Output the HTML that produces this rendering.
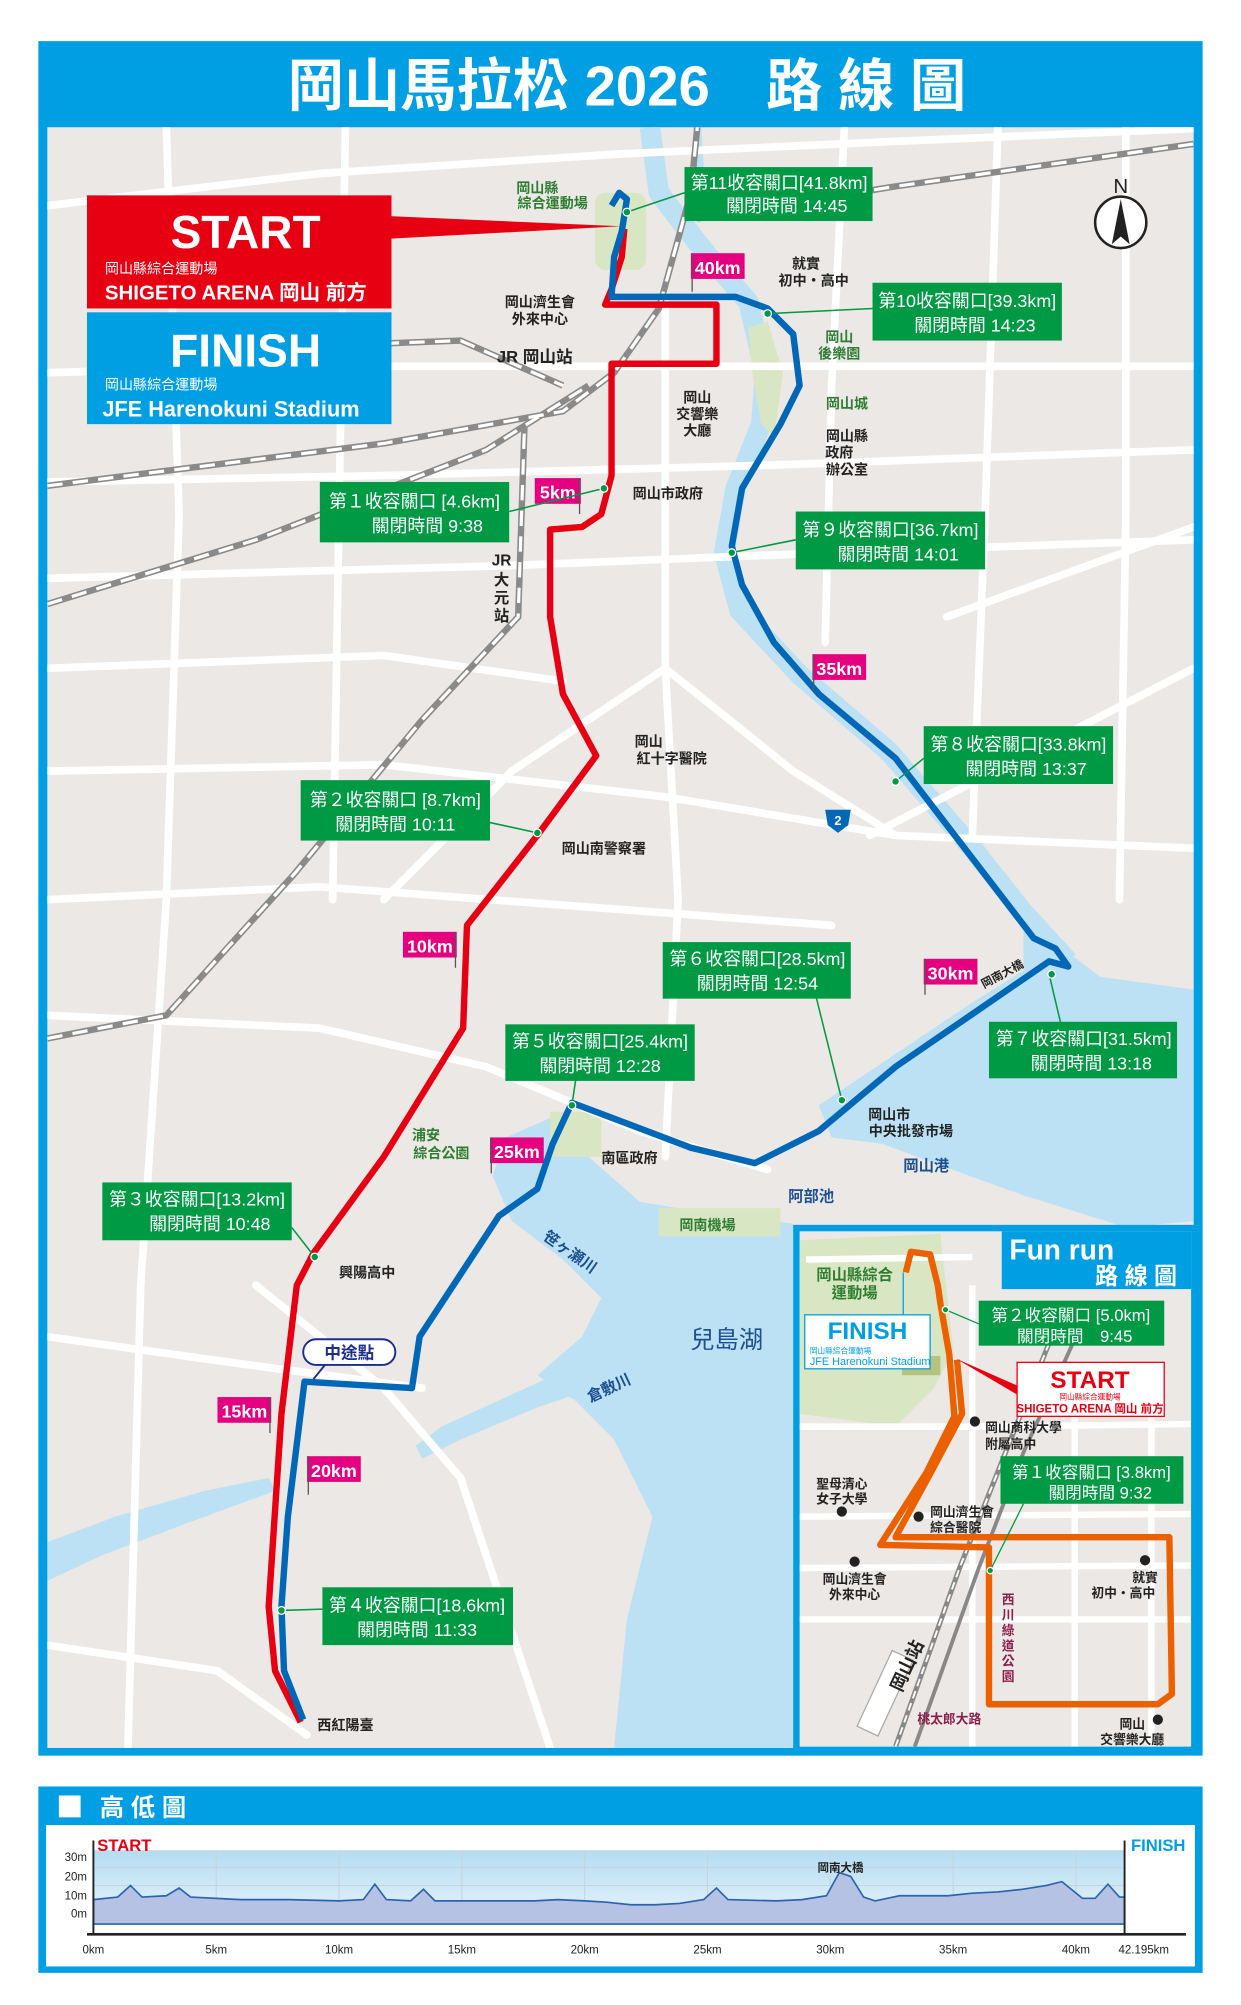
<!DOCTYPE html>
<html><head><meta charset="utf-8"><style>
html,body{margin:0;padding:0;background:#fff;width:1241px;height:2005px;overflow:hidden}
svg{display:block}
text{font-family:"Liberation Sans","Noto Sans CJK TC",sans-serif}
</style></head><body>
<svg width="1241" height="2005" viewBox="0 0 970 1560" preserveAspectRatio="none" xmlns="http://www.w3.org/2000/svg">
<rect width="970" height="1560" fill="#fff"/>
<rect x="30" y="32" width="910" height="1334" fill="#009fe3"/>
<text x="490" y="82" font-size="44" font-weight="bold" fill="#fff" text-anchor="middle">岡山馬拉松 2026　路 線 圖</text>
<rect x="37" y="99" width="896" height="1261" fill="#ebe8e5"/>
<clipPath id="mc"><rect x="37" y="99" width="896" height="1261"/></clipPath>
<g clip-path="url(#mc)">
<!-- water -->
<path d="M508,99 L515,150 L550,195 L585,235 L598,290 L595,330 L575,380 L566,430 L578,475 L625,525 L695,585 L760,660 L800,710 L835,748" fill="none" stroke="#bde1f4" stroke-width="16" stroke-linejoin="round"/>
<path d="M545,99 L548,140" fill="none" stroke="#bde1f4" stroke-width="6"/>
<g fill="#bde1f4">
<path d="M800,715 L860,760 L933,770 L933,950 L880,955 L800,930 L730,905 L690,890 L650,885 L640,860 L700,820 L760,780 L800,755 Z"/>
<path d="M395,885 L430,870 L460,900 L500,935 L560,945 L620,952 L622,1360 L480,1360 L490,1260 L510,1180 L480,1120 L450,1090 L420,1070 L455,1040 L470,1010 L440,980 L400,950 L385,915 Z"/>
<path d="M455,1060 L400,1085 L345,1110 L325,1125 L330,1135 L360,1120 L420,1095 L465,1080 Z"/>
<path d="M37,1200 L90,1180 L160,1160 L210,1150 L215,1160 L160,1180 L80,1210 L37,1230 Z"/>
</g>
<!-- parks -->
<g fill="#d9e6c3">
<rect x="465" y="150" width="40" height="60" rx="8"/>
<path d="M585,255 L600,250 L612,290 L605,340 L595,330 L588,290 Z"/>
<rect x="430" y="865" width="40" height="35"/>
<rect x="515" y="940" width="95" height="22"/>
</g>
<!-- roads -->
<g stroke="#fff" stroke-width="6" fill="none" stroke-linecap="round">
<path d="M37,160 L250,135 L480,120 L700,110 L933,100"/>
<path d="M37,290 L200,285 L480,285 L933,285"/>
<path d="M37,375 L300,370 L600,362 L933,350"/>
<path d="M37,450 L400,440 L650,430 L933,420"/>
<path d="M37,600 L300,595 L520,620 L700,650 L933,660"/>
<path d="M37,700 L250,690 L450,705 L650,720"/>
<path d="M37,790 L250,800 L380,830 L500,880 L600,910"/>
<path d="M37,1040 L180,1060 L330,1080"/>
<path d="M130,99 L140,400 L130,700 L110,1000 L100,1360"/>
<path d="M270,99 L265,400 L260,700"/>
<path d="M520,230 L520,520 L530,700 L520,900"/>
<path d="M660,99 L650,300 L645,500"/>
<path d="M780,99 L770,400 L760,650"/>
<path d="M880,99 L880,400 L875,700"/>
<path d="M37,520 L300,510 L440,530"/>
<path d="M520,520 L620,600 L700,650"/>
<path d="M520,520 L400,600 L300,700"/>
<path d="M200,1000 L300,1080 L360,1150 L430,1360"/>
<path d="M37,1280 L170,1300 L240,1350"/>
<path d="M680,650 L933,520"/>
<path d="M740,480 L933,410"/>
</g>
<!-- rails -->
<g fill="none">
<g stroke="#8a8a8a" stroke-width="5">
<path d="M37,378 L300,345 L440,320 L480,290 L515,240 L540,150 L545,99"/>
<path d="M545,170 L700,145 L933,112"/>
<path d="M37,470 L200,420 L380,350 L460,300"/>
<path d="M37,808 L130,790 L230,680 L330,560 L405,480 L410,330"/>
<path d="M280,268 L360,265 L440,300"/>
</g>
<g stroke="#fff" stroke-width="2.5" stroke-dasharray="12 8">
<path d="M37,378 L300,345 L440,320 L480,290 L515,240 L540,150 L545,99"/>
<path d="M545,170 L700,145 L933,112"/>
<path d="M37,470 L200,420 L380,350 L460,300"/>
<path d="M37,808 L130,790 L230,680 L330,560 L405,480 L410,330"/>
<path d="M280,268 L360,265 L440,300"/>
</g>
</g>
<!-- red route -->
<path d="M488,178 L486,200 L478,225 L473,237 L560,237 L560,283 L478,283 L478,370 L470,400 L455,410 L430,412 L430,480 L440,540 L466,588 L420,650 L365,720 L362,800 L300,900 L245,975 L232,1000 L220,1100 L210,1250 L215,1300 L235,1340" fill="none" stroke="#e60012" stroke-width="5" stroke-linejoin="round"/>
<!-- blue route -->
<path d="M237,1338 L222,1300 L220,1250 L225,1180 L238,1075 L322,1080 L328,1040 L390,946 L420,925 L432,890 L447,858 L540,893 L590,905 L640,880 L700,830 L820,748 L835,752 L825,738 L808,730 L700,590 L640,540 L605,500 L580,455 L572,425 L580,380 L610,330 L625,300 L620,260 L600,240 L575,231 L478,231 L480,200 L486,180 L490,155 L484,150 L478,160" fill="none" stroke="#0068b7" stroke-width="5" stroke-linejoin="round"/>
<g font-size="11" fill="#222" font-weight="bold">
<text x="420" y="150" fill="#2e7d32" text-anchor="middle">岡山縣</text>
<text x="432" y="162" fill="#2e7d32" text-anchor="middle">綜合運動場</text>
<text x="630" y="209" text-anchor="middle">就實</text>
<text x="636" y="222" text-anchor="middle">初中・高中</text>
<text x="422" y="239" text-anchor="middle">岡山濟生會</text>
<text x="422" y="252" text-anchor="middle">外來中心</text>
<text x="418" y="282" text-anchor="middle" font-size="13">JR 岡山站</text>
<text x="656" y="266" fill="#2e7d32" text-anchor="middle">岡山</text>
<text x="656" y="279" fill="#2e7d32" text-anchor="middle">後樂園</text>
<text x="662" y="318" fill="#2e7d32" text-anchor="middle">岡山城</text>
<text x="545" y="313" text-anchor="middle">岡山</text>
<text x="545" y="326" text-anchor="middle">交響樂</text>
<text x="545" y="339" text-anchor="middle">大廳</text>
<text x="662" y="343" text-anchor="middle">岡山縣</text>
<text x="656" y="356" text-anchor="middle">政府</text>
<text x="662" y="369" text-anchor="middle">辦公室</text>
<text x="522" y="388" text-anchor="middle">岡山市政府</text>
<text x="392" y="440" text-anchor="middle" font-size="12">JR</text>
<text x="392" y="455" text-anchor="middle" font-size="12">大</text>
<text x="392" y="469" text-anchor="middle" font-size="12">元</text>
<text x="392" y="483" text-anchor="middle" font-size="12">站</text>
<text x="507" y="581" text-anchor="middle">岡山</text>
<text x="525" y="594" text-anchor="middle">紅十字醫院</text>
<text x="472" y="664" text-anchor="middle">岡山南警察署</text>
<text x="783" y="761" text-anchor="middle" font-size="9" transform="rotate(-28 783 757)">岡南大橋</text>
<text x="695" y="871" text-anchor="middle">岡山市</text>
<text x="712" y="884" text-anchor="middle">中央批發市場</text>
<text x="724" y="911" text-anchor="middle" fill="#1d4f91" font-size="12">岡山港</text>
<text x="492" y="905" text-anchor="middle">南區政府</text>
<text x="333" y="887" fill="#2e7d32" text-anchor="middle">浦安</text>
<text x="345" y="901" fill="#2e7d32" text-anchor="middle">綜合公園</text>
<text x="634" y="935" fill="#1d4f91" text-anchor="middle" font-size="12">阿部池</text>
<text x="553" y="957" fill="#2e7d32" text-anchor="middle">岡南機場</text>
<text x="445" y="978" fill="#1d4f91" text-anchor="middle" font-size="12" transform="rotate(35 445 975)">笹ヶ瀬川</text>
<text x="287" y="994" text-anchor="middle">興陽高中</text>
<text x="568" y="1049" fill="#1d4f91" text-anchor="middle" font-size="19" font-weight="normal">兒島湖</text>
<text x="476" y="1084" fill="#1d4f91" text-anchor="middle" font-size="12" transform="rotate(-25 476 1080)">倉敷川</text>
<text x="270" y="1346" text-anchor="middle">西紅陽臺</text>
</g>
<rect x="237" y="1042" width="72" height="20" rx="10" fill="#fff" stroke="#1d2d8c" stroke-width="1.5"/>
<text x="273" y="1057" font-size="13" fill="#1d2d8c" text-anchor="middle" font-weight="bold">中途點</text>
<line x1="254" y1="1062" x2="245" y2="1073" stroke="#1d2d8c" stroke-width="1.5"/>
<path d="M645,630 L665,630 L663,642 L655,648 L647,642 Z" fill="#0068b7"/>
<text x="655" y="642" font-size="10" fill="#fff" text-anchor="middle" font-weight="bold">2</text>
<g font-size="14" font-weight="bold" fill="#fff">
<g transform="translate(540,197)"><rect width="42" height="20" fill="#e4007f"/><line x1="1" y1="0" x2="1" y2="30" stroke="#555"/><text x="21" y="16" text-anchor="middle">40km</text></g>
<g transform="translate(418,372)"><rect width="36" height="20" fill="#e4007f"/><line x1="35" y1="0" x2="35" y2="28" stroke="#555"/><text x="18" y="16" text-anchor="middle">5km</text></g>
<g transform="translate(635,509)"><rect width="42" height="20" fill="#e4007f"/><line x1="1" y1="0" x2="1" y2="30" stroke="#555"/><text x="21" y="16" text-anchor="middle">35km</text></g>
<g transform="translate(315,725)"><rect width="42" height="20" fill="#e4007f"/><line x1="41" y1="0" x2="41" y2="28" stroke="#555"/><text x="21" y="16" text-anchor="middle">10km</text></g>
<g transform="translate(722,746)"><rect width="42" height="20" fill="#e4007f"/><line x1="1" y1="0" x2="1" y2="28" stroke="#555"/><text x="21" y="16" text-anchor="middle">30km</text></g>
<g transform="translate(383,885)"><rect width="42" height="20" fill="#e4007f"/><line x1="1" y1="0" x2="1" y2="28" stroke="#555"/><text x="21" y="16" text-anchor="middle">25km</text></g>
<g transform="translate(170,1087)"><rect width="42" height="20" fill="#e4007f"/><line x1="41" y1="0" x2="41" y2="28" stroke="#555"/><text x="21" y="16" text-anchor="middle">15km</text></g>
<g transform="translate(240,1133)"><rect width="42" height="20" fill="#e4007f"/><line x1="1" y1="0" x2="1" y2="30" stroke="#555"/><text x="21" y="16" text-anchor="middle">20km</text></g>
</g>
<g stroke="#009944" stroke-width="1.2">
<line x1="398" y1="398" x2="472" y2="380"/>
<line x1="383" y1="640" x2="420" y2="648"/>
<line x1="228" y1="955" x2="246" y2="978"/>
<line x1="252" y1="1252" x2="220" y2="1253"/>
<line x1="450" y1="840" x2="447" y2="860"/>
<line x1="638" y1="776" x2="658" y2="856"/>
<line x1="820" y1="758" x2="830" y2="800"/>
<line x1="722" y1="590" x2="700" y2="608"/>
<line x1="622" y1="420" x2="572" y2="430"/>
<line x1="682" y1="240" x2="600" y2="244"/>
<line x1="535" y1="150" x2="490" y2="165"/>
</g>
<g fill="#009944" stroke="#fff" stroke-width="1">
<circle cx="472" cy="380" r="3"/><circle cx="420" cy="648" r="3"/><circle cx="246" cy="978" r="3"/><circle cx="220" cy="1253" r="3"/><circle cx="447" cy="860" r="3"/><circle cx="658" cy="856" r="3"/><circle cx="822" cy="758" r="3"/><circle cx="700" cy="608" r="3"/><circle cx="572" cy="430" r="3"/><circle cx="600" cy="244" r="3"/><circle cx="490" cy="165" r="3"/>
</g>
<g font-size="14" fill="#fff">
<g transform="translate(250,375)"><rect width="148" height="47" fill="#009944"/><text x="74" y="20" text-anchor="middle">第１收容關口 [4.6km]</text><text x="84" y="39" text-anchor="middle">關閉時間  9:38</text></g>
<g transform="translate(235,607)"><rect width="148" height="47" fill="#009944"/><text x="74" y="20" text-anchor="middle">第２收容關口 [8.7km]</text><text x="74" y="39" text-anchor="middle">關閉時間 10:11</text></g>
<g transform="translate(80,920)"><rect width="148" height="45" fill="#009944"/><text x="74" y="18" text-anchor="middle">第３收容關口[13.2km]</text><text x="84" y="37" text-anchor="middle">關閉時間 10:48</text></g>
<g transform="translate(252,1235)"><rect width="149" height="45" fill="#009944"/><text x="74" y="19" text-anchor="middle">第４收容關口[18.6km]</text><text x="74" y="38" text-anchor="middle">關閉時間 11:33</text></g>
<g transform="translate(395,797)"><rect width="148" height="44" fill="#009944"/><text x="74" y="18" text-anchor="middle">第５收容關口[25.4km]</text><text x="74" y="37" text-anchor="middle">關閉時間 12:28</text></g>
<g transform="translate(518,733)"><rect width="147" height="44" fill="#009944"/><text x="74" y="18" text-anchor="middle">第６收容關口[28.5km]</text><text x="74" y="37" text-anchor="middle">關閉時間 12:54</text></g>
<g transform="translate(773,795)"><rect width="147" height="44" fill="#009944"/><text x="74" y="18" text-anchor="middle">第７收容關口[31.5km]</text><text x="80" y="37" text-anchor="middle">關閉時間 13:18</text></g>
<g transform="translate(722,565)"><rect width="148" height="45" fill="#009944"/><text x="74" y="19" text-anchor="middle">第８收容關口[33.8km]</text><text x="80" y="38" text-anchor="middle">關閉時間 13:37</text></g>
<g transform="translate(622,398)"><rect width="148" height="45" fill="#009944"/><text x="74" y="19" text-anchor="middle">第９收容關口[36.7km]</text><text x="80" y="38" text-anchor="middle">關閉時間 14:01</text></g>
<g transform="translate(682,220)"><rect width="148" height="45" fill="#009944"/><text x="74" y="19" text-anchor="middle">第10收容關口[39.3km]</text><text x="80" y="38" text-anchor="middle">關閉時間 14:23</text></g>
<g transform="translate(535,130)"><rect width="147" height="42" fill="#009944"/><text x="74" y="17" text-anchor="middle">第11收容關口[41.8km]</text><text x="80" y="35" text-anchor="middle">關閉時間 14:45</text></g>
</g>
<path d="M300,168 L485,176 L300,186 Z" fill="#e60012"/>
<rect x="68" y="152" width="238" height="88" fill="#e60012"/>
<text x="192" y="193" font-size="36" font-weight="bold" fill="#fff" text-anchor="middle">START</text>
<text x="82" y="213" font-size="11" fill="#fff">岡山縣綜合運動場</text>
<text x="82" y="233" font-size="16" font-weight="bold" fill="#fff">SHIGETO ARENA 岡山  前方</text>
<rect x="68" y="243" width="238" height="87" fill="#009fe3"/>
<text x="192" y="285" font-size="36" font-weight="bold" fill="#fff" text-anchor="middle">FINISH</text>
<text x="82" y="303" font-size="11" fill="#fff">岡山縣綜合運動場</text>
<text x="80" y="324" font-size="17" font-weight="bold" fill="#fff">JFE Harenokuni Stadium</text>
<circle cx="876" cy="173" r="20" fill="#fff" stroke="#222" stroke-width="2"/>
<path d="M876,155 L869,190 L876,184 L883,190 Z" fill="#222"/>
<text x="876" y="150" font-size="16" text-anchor="middle" fill="#222">N</text>
</g>
<!-- Fun run inset -->
<rect x="620" y="953" width="318" height="410" fill="#009fe3"/>
<g>
<clipPath id="fc"><rect x="625" y="958" width="306" height="401"/></clipPath>
<rect x="625" y="958" width="306" height="401" fill="#ebe8e5"/>
<g clip-path="url(#fc)">
<path d="M625,965 L735,960 L745,1050 L730,1080 L700,1110 L625,1100 Z" fill="#d9e6c3"/>
<rect x="705" y="1055" width="30" height="15" fill="#b7c27f"/>
<g stroke="#fff" stroke-width="5" fill="none">
<path d="M625,1110 L760,1110 L931,1108"/>
<path d="M625,1180 L931,1178"/>
<path d="M625,1220 L931,1218"/>
<path d="M625,1260 L931,1260"/>
<path d="M760,1000 L760,1359"/><path d="M840,1100 L840,1359"/><path d="M900,1100 L900,1359"/>
<path d="M630,980 L760,978"/>
</g>
<path d="M700,1359 L750,1220 L790,1120 L830,1020" stroke="#888" stroke-width="4" fill="none"/>
<path d="M700,1359 L750,1220 L790,1120 L830,1020" stroke="#fff" stroke-width="1.5" stroke-dasharray="6 4" fill="none"/>
<path d="M715,1359 L765,1220 L800,1130 L850,1020" stroke="#888" stroke-width="3" fill="none"/>
<rect x="683" y="1285" width="18" height="65" fill="#fff" stroke="#aaa" transform="rotate(25 692 1317)"/>
<text x="700" y="1320" font-size="14" font-weight="bold" fill="#222" transform="rotate(-65 700 1315)">岡山站</text>
<path d="M708,990 L712,974 L727,976 L733,1000 L735,1014 L742,1054 L746,1102 L724,1146 L688,1202 L773,1204 L773,1326 L905,1326 L916,1318 L914,1196 L700,1196 L728,1145 L752,1100 L748,1058" fill="none" stroke="#eb6100" stroke-width="5" stroke-linejoin="round"/>
<g fill="#222">
<circle cx="762" cy="1106" r="4"/><circle cx="718" cy="1180" r="4"/><circle cx="658" cy="1176" r="4"/><circle cx="668" cy="1215" r="4"/><circle cx="895" cy="1214" r="4"/><circle cx="905" cy="1338" r="4"/>
</g>
<g font-size="10" font-weight="bold" fill="#222">
<text x="668" y="996" fill="#2e7d32" text-anchor="middle" font-size="12">岡山縣綜合</text>
<text x="668" y="1010" fill="#2e7d32" text-anchor="middle" font-size="12">運動場</text>
<text x="770" y="1114">岡山商科大學</text><text x="770" y="1127">附屬高中</text>
<text x="658" y="1158" text-anchor="middle">聖母清心</text><text x="658" y="1170" text-anchor="middle">女子大學</text>
<text x="727" y="1180">岡山濟生會</text><text x="727" y="1192">綜合醫院</text>
<text x="668" y="1232" text-anchor="middle">岡山濟生會</text><text x="668" y="1244" text-anchor="middle">外來中心</text>
<text x="895" y="1231" text-anchor="middle">就實</text><text x="878" y="1243" text-anchor="middle">初中・高中</text>
<text x="885" y="1345" text-anchor="middle">岡山</text><text x="885" y="1357" text-anchor="middle">交響樂大廳</text>
<text x="742" y="1341" text-anchor="middle" fill="#8b1e4b">桃太郎大路</text>
<text x="788" y="1248" fill="#8b1e4b" text-anchor="middle">西</text><text x="788" y="1260" fill="#8b1e4b" text-anchor="middle">川</text><text x="788" y="1272" fill="#8b1e4b" text-anchor="middle">綠</text><text x="788" y="1284" fill="#8b1e4b" text-anchor="middle">道</text><text x="788" y="1296" fill="#8b1e4b" text-anchor="middle">公</text><text x="788" y="1308" fill="#8b1e4b" text-anchor="middle">園</text>
</g>
<line x1="706" y1="990" x2="706" y2="1023" stroke="#009fe3"/>
<rect x="629" y="1023" width="98" height="42" fill="#fff" stroke="#009fe3"/>
<text x="678" y="1042" font-size="19" font-weight="bold" fill="#009fe3" text-anchor="middle">FINISH</text>
<text x="633" y="1053" font-size="6" fill="#009fe3">岡山縣綜合運動場</text>
<text x="633" y="1062" font-size="8.5" fill="#009fe3">JFE Harenokuni Stadium</text>
<path d="M747,1057 L795,1078 L795,1085 Z" fill="#e60012"/>
<rect x="795" y="1060" width="115" height="42" fill="#fff" stroke="#e60012"/>
<text x="852" y="1080" font-size="19" font-weight="bold" fill="#e60012" text-anchor="middle">START</text>
<text x="852" y="1089" font-size="6" fill="#e60012" text-anchor="middle">岡山縣綜合運動場</text>
<text x="852" y="1099" font-size="9" font-weight="bold" fill="#e60012" text-anchor="middle">SHIGETO ARENA 岡山 前方</text>
<line x1="739" y1="1019" x2="765" y2="1030" stroke="#009944"/>
<line x1="774" y1="1222" x2="800" y2="1170" stroke="#009944"/>
<circle cx="739" cy="1019" r="2.5" fill="#009944" stroke="#fff"/><circle cx="774" cy="1222" r="2.5" fill="#009944" stroke="#fff"/>
<rect x="765" y="1012" width="145" height="35" fill="#009944"/>
<text x="837" y="1028" font-size="13" fill="#fff" text-anchor="middle">第２收容關口 [5.0km]</text>
<text x="840" y="1044" font-size="13" fill="#fff" text-anchor="middle">關閉時間　9:45</text>
<rect x="782" y="1133" width="143" height="37" fill="#009944"/>
<text x="853" y="1150" font-size="13" fill="#fff" text-anchor="middle">第１收容關口 [3.8km]</text>
<text x="860" y="1166" font-size="13" fill="#fff" text-anchor="middle">關閉時間  9:32</text>
</g>
<rect x="783" y="958" width="148" height="45" fill="#009fe3"/>
<text x="789" y="980" font-size="22" font-weight="bold" fill="#fff">Fun run</text>
<text x="920" y="999" font-size="18" font-weight="bold" fill="#fff" text-anchor="end">路 線 圖</text>
</g>
<!-- elevation -->
<rect x="30" y="1390" width="910" height="145" fill="#009fe3"/>
<rect x="36" y="1420" width="898" height="110" fill="#fff"/>
<rect x="46" y="1397" width="17" height="17" fill="#fff"/>
<text x="78" y="1413" font-size="19" fill="#fff" font-weight="bold">高 低 圖</text>
<defs><linearGradient id="sky" x1="0" y1="0" x2="0" y2="1"><stop offset="0" stop-color="#b4dcf2"/><stop offset="1" stop-color="#eaf5fb"/></linearGradient></defs>
<rect x="73" y="1440" width="806" height="57" fill="url(#sky)"/>
<g stroke="#c8d2dc" stroke-width="0.8">
<line x1="73" y1="1440" x2="879" y2="1440"/><line x1="73" y1="1453" x2="879" y2="1453"/><line x1="73" y1="1467" x2="879" y2="1467"/>
<line x1="169" y1="1440" x2="169" y2="1497"/><line x1="265" y1="1440" x2="265" y2="1497"/><line x1="361" y1="1440" x2="361" y2="1497"/><line x1="457" y1="1440" x2="457" y2="1497"/><line x1="553" y1="1440" x2="553" y2="1497"/><line x1="649" y1="1440" x2="649" y2="1497"/><line x1="745" y1="1440" x2="745" y2="1497"/><line x1="841" y1="1440" x2="841" y2="1497"/>
</g>
<path d="M73,1478 L92,1476 L102,1467 L111,1476 L130,1475 L140,1469 L149,1476 L188,1478 L226,1478 L265,1479 L284,1478 L293,1466 L302,1478 L321,1479 L331,1470 L340,1479 L378,1479 L418,1479 L436,1478 L457,1479 L474,1480 L493,1482 L512,1482 L531,1481 L550,1478 L560,1469 L569,1478 L607,1479 L627,1478 L646,1475 L656,1457 L665,1460 L675,1476 L684,1479 L703,1475 L741,1475 L760,1473 L780,1472 L799,1470 L818,1467 L830,1464 L846,1477 L856,1477 L866,1466 L875,1476 L879,1476 L879,1497 L73,1497 Z" fill="#b6c2e3" stroke="#2a64b0" stroke-width="1.3"/>
<line x1="68" y1="1505" x2="927" y2="1505" stroke="#222" stroke-width="2"/>
<line x1="73" y1="1432" x2="73" y2="1505" stroke="#222" stroke-width="1.5"/>
<line x1="879" y1="1432" x2="879" y2="1505" stroke="#222" stroke-width="1.5"/>
<text x="76" y="1440" font-size="13" font-weight="bold" fill="#e60012">START</text>
<text x="884" y="1440" font-size="13" font-weight="bold" fill="#009fe3">FINISH</text>
<text x="657" y="1456" font-size="9" font-weight="bold" fill="#222" text-anchor="middle">岡南大橋</text>
<g font-size="9" fill="#222">
<text x="68" y="1448" text-anchor="end">30m</text><text x="68" y="1463" text-anchor="end">20m</text><text x="68" y="1478" text-anchor="end">10m</text><text x="68" y="1492" text-anchor="end">0m</text>
<g text-anchor="middle">
<text x="73" y="1520">0km</text><text x="169" y="1520">5km</text><text x="265" y="1520">10km</text><text x="361" y="1520">15km</text><text x="457" y="1520">20km</text><text x="553" y="1520">25km</text><text x="649" y="1520">30km</text><text x="745" y="1520">35km</text><text x="841" y="1520">40km</text><text x="894" y="1520">42.195km</text>
</g></g>
</svg>
</body></html>
